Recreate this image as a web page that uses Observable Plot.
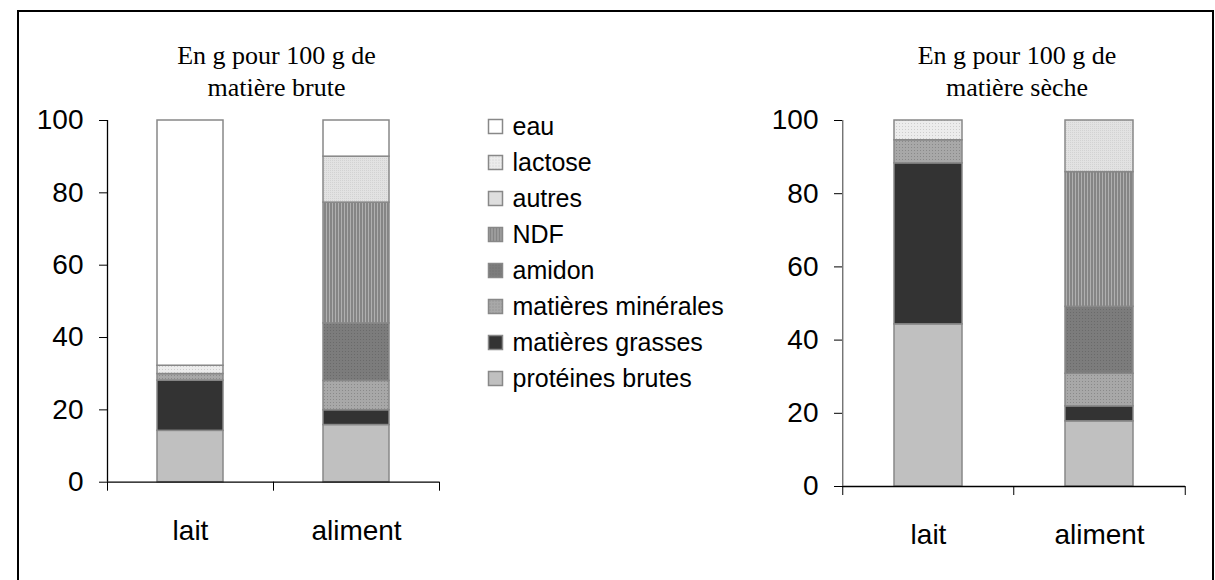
<!DOCTYPE html>
<html><head><meta charset="utf-8">
<script src="https://cdn.jsdelivr.net/npm/d3@7"></script>
<script src="https://cdn.jsdelivr.net/npm/@observablehq/plot@0.6"></script>
<style>
body{margin:0;background:#fff;width:1215px;height:580px;overflow:hidden;position:relative;font-family:"Liberation Sans",Arial,sans-serif;}
#frame{position:absolute;left:17px;top:10px;width:1197px;height:600px;border:2px solid #000;box-sizing:border-box;}
.pane{position:absolute;}
</style></head><body>
<svg width="0" height="0" style="position:absolute">
<defs>
<pattern id="pMin" width="3" height="3" patternUnits="userSpaceOnUse"><rect width="3" height="3" fill="#a8a8a8"/><rect width="1" height="1" fill="#8a8a8a"/></pattern>
<pattern id="pAmidon" width="3" height="3" patternUnits="userSpaceOnUse"><rect width="3" height="3" fill="#7c7c7c"/><rect width="1" height="1" fill="#6a6a6a"/></pattern>
<pattern id="pNDF" width="3" height="3" patternUnits="userSpaceOnUse"><rect width="3" height="3" fill="#b0b0b0"/><rect width="2" height="3" fill="#858585"/></pattern>
<pattern id="pAutres" width="2" height="2" patternUnits="userSpaceOnUse"><rect width="2" height="2" fill="#e2e2e2"/><rect width="1" height="1" fill="#d2d2d2"/></pattern>
<pattern id="pLactose" width="3" height="3" patternUnits="userSpaceOnUse"><rect width="3" height="3" fill="#ececec"/><rect width="1" height="1" fill="#cdcdcd"/></pattern>
</defs></svg>
<div id="frame"></div>
<div id="left" class="pane" style="left:0;top:0"></div>
<div id="legend" class="pane" style="left:470px;top:100px"></div>
<div id="right" class="pane" style="left:740px;top:0"></div>
<script>
const categories = ["lait", "aliment"];
const components = ["protéines brutes", "matières grasses", "matières minérales", "amidon", "NDF", "autres", "lactose", "eau"];
const legendOrder = ["eau", "lactose", "autres", "NDF", "amidon", "matières minérales", "matières grasses", "protéines brutes"];
const yTicks = [0, 20, 40, 60, 80, 100];
const titleBrute = "En g pour 100 g de\nmatière brute";
const titleSeche = "En g pour 100 g de\nmatière sèche";
// values in component order (bottom to top)
const brutLait = [14.2, 13.9, 1.8, 0, 0, 0, 2.3, 67.8];
const brutAliment = [15.8, 4.1, 8.1, 15.9, 33.4, 12.7, 0, 10.0];
const secheLait = [44.3, 44.0, 6.3, 0, 0, 0, 5.4, 0];
const secheAliment = [17.8, 4.1, 8.9, 18.3, 36.8, 14.1, 0, 0];

const fills = ["#c0c0c0", "#333333", "url(#pMin)", "url(#pAmidon)", "url(#pNDF)", "url(#pAutres)", "url(#pLactose)", "#ffffff"];
const sans = "Liberation Sans, Arial, sans-serif";
const serif = "Liberation Serif, Times New Roman, serif";

function rows(lait, aliment) {
  const out = [];
  for (const [cat, vals] of [["lait", lait], ["aliment", aliment]])
    components.forEach((c, i) => { if (vals[i] > 0) out.push({cat, comp: c, value: vals[i]}); });
  return out;
}

function chart({data, title, width, height, marginLeft, marginRight, marginTop, marginBottom, yAxisColor}) {
  const step = (width - marginLeft - marginRight) / 2;
  const px = (height - marginTop - marginBottom) / 100;
  const tickLen = 9 / px;
  return Plot.plot({
    width, height, marginLeft, marginRight, marginTop, marginBottom,
    style: {fontFamily: sans, fontSize: "28px", color: "#000", background: "transparent", overflow: "visible"},
    x: {domain: categories, paddingInner: 0.6, paddingOuter: 0.3},
    y: {domain: [0, 100]},
    color: {domain: components, range: fills},
    marks: [
      Plot.barY(data, {x: "cat", y: "value", fill: "comp", stroke: "#888", strokeWidth: 1.5}),
      Plot.ruleY([0], {stroke: "#000", strokeWidth: 1.3}),
      Plot.ruleX(["lait"], {dx: -step / 2, y1: 0, y2: 100, stroke: yAxisColor, strokeWidth: 1.3}),
      Plot.ruleX(categories, {dx: -step / 2, y1: 0, y2: -tickLen, stroke: "#000"}),
      Plot.ruleX(["aliment"], {dx: step / 2, y1: 0, y2: -tickLen, stroke: "#000"}),
      Plot.axisY({ticks: yTicks, tickSize: 8, tickPadding: 16, fontSize: 28, tickFormat: d => String(d), label: null}),
      Plot.axisX({tickSize: 0, tickPadding: 38, fontSize: 28, label: null}),
      Plot.text([title], {frameAnchor: "top", dx: 3, dy: -25, lineAnchor: "bottom", fontFamily: serif, fontSize: 26, lineHeight: 1.2, fill: "#000"})
    ]
  });
}

document.getElementById("left").append(chart({
  data: rows(brutLait, brutAliment), title: titleBrute,
  width: 460, height: 580, marginLeft: 107, marginRight: 21, marginTop: 120, marginBottom: 98.3, yAxisColor: "#000"
}));

document.getElementById("right").append(chart({
  data: rows(secheLait, secheAliment), title: titleSeche,
  width: 475, height: 580, marginLeft: 102, marginRight: 30, marginTop: 120, marginBottom: 94, yAxisColor: "#666"
}));

document.getElementById("legend").append(Plot.plot({
  width: 290, height: 300, margin: 0,
  style: {fontFamily: sans, fontSize: "25px", color: "#000", background: "transparent", overflow: "visible"},
  y: {type: "point", domain: legendOrder, range: [24, 280.2], padding: 0, axis: null},
  color: {domain: components, range: fills},
  marks: [
    Plot.dot(legendOrder, {y: d => d, frameAnchor: "left", dx: 25, symbol: "square", r: 7.9, fill: d => d, stroke: "#888", strokeWidth: 1.5}),
    Plot.text(legendOrder, {y: d => d, frameAnchor: "left", dx: 42, textAnchor: "start", fontSize: 25, text: d => d, fill: "#000"})
  ]
}));
</script>
</body></html>
